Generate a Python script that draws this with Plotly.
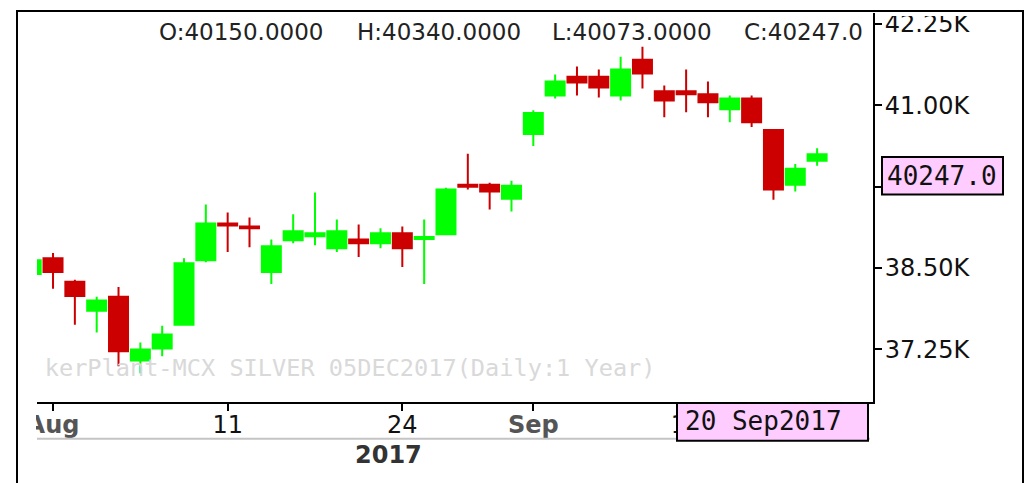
import plotly.graph_objects as go

# ---------------- data ----------------
dates = ["2017-07-31", "2017-08-01", "2017-08-02", "2017-08-03", "2017-08-04",
         "2017-08-07", "2017-08-08", "2017-08-09", "2017-08-10", "2017-08-11",
         "2017-08-14", "2017-08-16", "2017-08-17", "2017-08-18", "2017-08-21",
         "2017-08-22", "2017-08-23", "2017-08-24", "2017-08-25", "2017-08-28",
         "2017-08-29", "2017-08-30", "2017-08-31", "2017-09-01", "2017-09-04",
         "2017-09-05", "2017-09-06", "2017-09-07", "2017-09-08", "2017-09-11",
         "2017-09-12", "2017-09-13", "2017-09-14", "2017-09-15", "2017-09-18",
         "2017-09-19", "2017-09-20"]
opens = [38410, 38650, 38290, 37845, 38060, 37080, 37265, 37630, 38620, 39185,
         39140, 38440, 38925, 38990, 38805, 38940, 38880, 39035, 38945, 39020,
         39780, 39780, 39565, 40560, 41150, 41440, 41440, 41150, 41700, 41215,
         41215, 41170, 40940, 41105, 40620, 39780, 40150]
highs = [38650, 38730, 38320, 38060, 38210, 37355, 37615, 38650, 39475, 39355,
         39275, 38940, 39325, 39660, 39245, 39170, 39110, 39140, 39245, 39735,
         40255, 39810, 39840, 40925, 41475, 41595, 41550, 41745, 41900, 41305,
         41550, 41365, 41150, 41150, 40635, 40100, 40340]
lows = [38380, 38180, 37630, 37510, 36990, 36885, 37145, 37615, 38590, 38745,
        38820, 38255, 38880, 38850, 38745, 38670, 38805, 38515, 38255, 39005,
        39705, 39400, 39370, 40375, 41105, 41150, 41120, 41075, 41260, 40815,
        40895, 40815, 40740, 40665, 39550, 39675, 40073]
closes = [38620, 38440, 38070, 38000, 37220, 37250, 37480, 38575, 39185, 39155,
          39110, 38835, 39065, 39035, 39065, 38880, 39035, 38805, 38975, 39705,
          39750, 39675, 39765, 40880, 41365, 41350, 41275, 41550, 41490, 41075,
          41170, 41045, 41105, 40740, 39705, 40025, 40247]

tick_dates = ["2017-08-01", "2017-08-11", "2017-08-24", "2017-09-01", "2017-09-12"]
tick_labels = ['<span style="color:#555555"><b>Aug</b></span>', "11", "24",
               '<span style="color:#555555"><b>Sep</b></span>', "12"]
y_ticks = [37250, 38500, 39750, 41000, 42250]
y_tick_labels = ["37.25K", "38.50K", "", "41.00K", "42.25K"]

year_label = "2017"
last_date_label = "20 Sep2017"
watermark = "kerPlant-MCX SILVER 05DEC2017(Daily:1 Year)"

# ---------------- geometry helpers (pixels -> paper) ----------------
W, H = 1026, 483
PL, PR, PT, PB = 37, 873, 10, 402


def px(x):
    return (x - PL) / (PR - PL)


def py(y):
    return (PB - y) / (PB - PT)


xs = list(range(len(dates)))
tick_x = [dates.index(d) for d in tick_dates]

fig = go.Figure()
fig.add_trace(go.Scatter(
    x=[28.6], y=[36930], mode="text", text=[watermark],
    textposition="middle left", cliponaxis=True,
    textfont=dict(family="DejaVu Sans Mono", size=23.6, color="#d9d9d9"),
    showlegend=False, hoverinfo="skip",
))
fig.add_trace(go.Candlestick(
    x=xs, open=opens, high=highs, low=lows, close=closes,
    increasing=dict(line=dict(color="#00FF00", width=2), fillcolor="#00FF00"),
    decreasing=dict(line=dict(color="#CC0000", width=2), fillcolor="#CC0000"),
    whiskerwidth=0, showlegend=False, hoverinfo="skip",
))

black = "#111111"
fig.update_layout(
    width=W, height=H,
    margin=dict(l=PL, r=W - PR, t=PT, b=H - PB, pad=0),
    paper_bgcolor="white", plot_bgcolor="white",
    boxgap=0.1, boxgroupgap=0.033,
    showlegend=False,
    xaxis=dict(
        range=[0.266, 38.56], showgrid=False, zeroline=False,
        showline=True, linecolor="black", linewidth=2,
        ticks="outside", ticklen=7, tickwidth=2, tickcolor="black",
        tickvals=tick_x, ticktext=tick_labels, ticklabelstandoff=-7,
        tickfont=dict(family="DejaVu Sans", size=24, color=black),
        rangeslider=dict(visible=False), fixedrange=True,
    ),
    yaxis=dict(
        side="right", range=[36442, 42418], showgrid=False, zeroline=False,
        showline=True, linecolor="black", linewidth=2,
        ticks="outside", ticklen=7, tickwidth=2, tickcolor="black",
        tickvals=y_ticks, ticktext=y_tick_labels, ticklabelstandoff=-2,
        tickfont=dict(family="DejaVu Sans", size=24, color=black),
        fixedrange=True,
    ),
)

shapes = [
    # outer frame
    dict(type="rect", xref="paper", yref="paper", x0=px(17), x1=px(1023),
         y0=py(500), y1=py(8), line=dict(color="black", width=2), layer="above"),
    # light grey line under date axis
    dict(type="line", xref="paper", yref="paper", x0=px(37), x1=px(870),
         y0=py(439), y1=py(439), line=dict(color="#c4c4c4", width=2)),
    # hide left part of first tick label
    dict(type="rect", xref="paper", yref="paper", x0=px(19), x1=px(36),
         y0=py(436), y1=py(404), fillcolor="white", line=dict(width=0), layer="above"),
    # clip top of 42.25K label
    dict(type="rect", xref="paper", yref="paper", x0=px(876), x1=px(1020),
         y0=py(13), y1=py(9), fillcolor="white", line=dict(width=0), layer="above"),
    # date box
    dict(type="rect", xref="paper", yref="paper", x0=px(677), x1=px(868),
         y0=py(441), y1=py(403), fillcolor="#FFCCFF",
         line=dict(color="black", width=2), layer="above"),
    # price box
    dict(type="rect", xref="paper", yref="paper", x0=px(882), x1=px(1003),
         y0=py(193), y1=py(155), fillcolor="#FFCCFF",
         line=dict(color="black", width=2), layer="above"),
]
fig.update_layout(shapes=shapes)

last = len(dates) - 1
header = [
    (157, "O:%.4f" % opens[last]),
    (355, "H:%.4f" % highs[last]),
    (550, "L:%.4f" % lows[last]),
    (742, "C:%.1f" % closes[last]),
]
annotations = []
for xpix, txt in header:
    annotations.append(dict(
        xref="paper", yref="paper", x=px(xpix), y=py(29), text=txt,
        xanchor="left", yanchor="middle", showarrow=False,
        font=dict(family="DejaVu Sans", size=23, color="#222222")))
annotations.append(dict(
    xref="paper", yref="paper", x=px(885), y=py(174), text="%.1f" % closes[last],
    xanchor="left", yanchor="middle", showarrow=False,
    font=dict(family="DejaVu Sans Mono", size=26, color=black)))
annotations.append(dict(
    xref="paper", yref="paper", x=px(683), y=py(421), text=last_date_label,
    xanchor="left", yanchor="middle", showarrow=False,
    font=dict(family="DejaVu Sans Mono", size=26, color=black)))
annotations.append(dict(
    xref="paper", yref="paper", x=px(388), y=py(455), text="<b>%s</b>" % year_label,
    xanchor="center", yanchor="middle", showarrow=False,
    font=dict(family="DejaVu Sans", size=24, color="#333333")))
fig.update_layout(annotations=annotations)

fig.write_html("out.html",
               config={"displayModeBar": False},
               post_script="document.body.style.margin='0px';"
                           "document.body.style.overflow='hidden';")
